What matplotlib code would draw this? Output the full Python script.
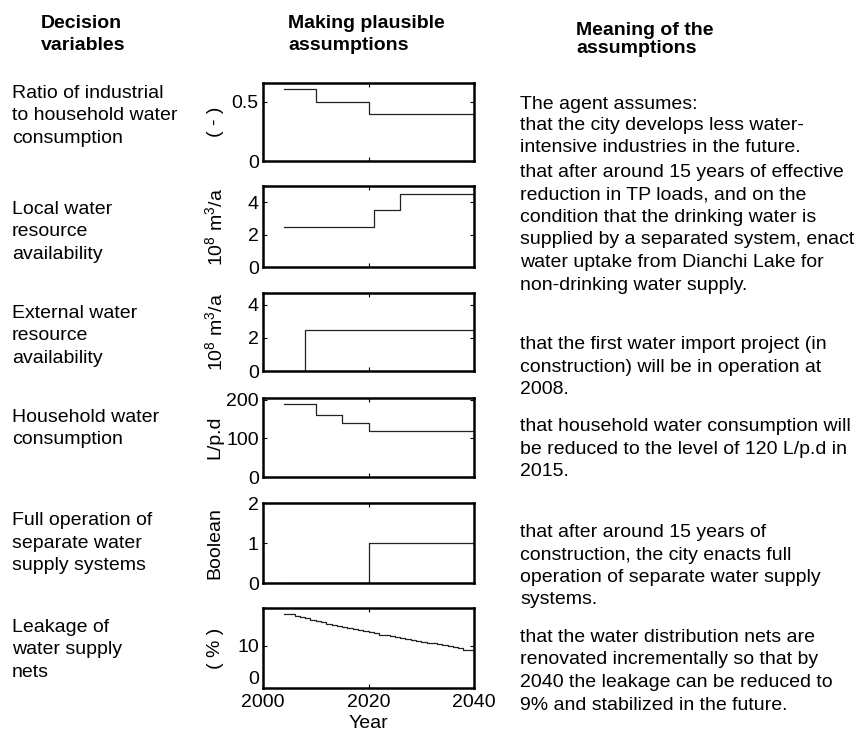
import matplotlib
matplotlib.use("Agg")
import matplotlib.pyplot as plt

plt.rcParams["font.family"] = ["Liberation Sans", "DejaVu Sans"]
plt.rcParams["mathtext.fontset"] = "custom"
plt.rcParams["mathtext.rm"] = "Liberation Sans"
plt.rcParams["mathtext.default"] = "regular"

# step assumptions: each value holds from its year until the next listed year
ratio_years = [2004, 2010, 2020, 2040]
ratio_values = [0.61, 0.5, 0.4, 0.4]

local_years = [2004, 2021, 2026, 2040]
local_values = [2.5, 3.5, 4.5, 4.5]

external_years = [2004, 2008, 2040]
external_values = [0, 2.5, 2.5]

household_years = [2004, 2010, 2015, 2020, 2040]
household_values = [190, 160, 140, 120, 120]

separate_years = [2004, 2020, 2040]
separate_values = [0, 1, 1]

leakage_years = list(range(2004, 2041))
leakage_values = [17.5, 17.5, 17.2, 16.9, 16.6, 16.2, 15.9, 15.6, 15.3, 15.0,
                  14.7, 14.5, 14.2, 14.0, 13.7, 13.5, 13.2, 13.0, 12.7, 12.5,
                  12.3, 12.1, 11.8, 11.6, 11.4, 11.2, 11.0, 10.8, 10.6, 10.4,
                  10.2, 9.9, 9.7, 9.4, 9.1, 9.0, 9.0]

variable_names = [
    ["Ratio of industrial", "to household water", "consumption"],
    ["Local water", "resource", "availability"],
    ["External water", "resource", "availability"],
    ["Household water", "consumption"],
    ["Full operation of", "separate water", "supply systems"],
    ["Leakage of", "water supply", "nets"],
]

meanings = [
    ["that the city develops less water-",
     "intensive industries in the future."],
    ["that after around 15 years of effective",
     "reduction in TP loads, and on the",
     "condition that the drinking water is",
     "supplied by a separated system, enact",
     "water uptake from Dianchi Lake for",
     "non-drinking water supply."],
    ["that the first water import project (in",
     "construction) will be in operation at",
     "2008."],
    ["that household water consumption will",
     "be reduced to the level of 120 L/p.d in",
     "2015."],
    ["that after around 15 years of",
     "construction, the city enacts full",
     "operation of separate water supply",
     "systems."],
    ["that the water distribution nets are",
     "renovated incrementally so that by",
     "2040 the leakage can be reduced to",
     "9% and stabilized in the future."],
]

units = ["( - )", "10$^8$ m$^3$/a", "10$^8$ m$^3$/a", "L/p.d", "Boolean", "( % )"]
y_ticks = [[0, 0.5], [0, 2, 4], [0, 2, 4], [0, 100, 200], [0, 1, 2], [0, 10]]
y_tick_labels = [["0", "0.5"], ["0", "2", "4"], ["0", "2", "4"],
                 ["0", "100", "200"], ["0", "1", "2"], ["0", "10"]]
y_tops = [0.66, 5, 4.7, 205, 2, 19]
x_ticks = [2000, 2020, 2040]

series = [
    (ratio_years, ratio_values),
    (local_years, local_values),
    (external_years, external_values),
    (household_years, household_values),
    (separate_years, separate_values),
    (leakage_years, leakage_values),
]

W, H = 858, 735
fig = plt.figure(figsize=(W / 100, H / 100), dpi=100)

# pixel layout of the six panels (top, bottom) and of the text columns
ax_left, ax_right = 263, 474
panel_rows = [(83, 161), (186, 267), (293, 371), (398, 477), (503, 583), (608, 688)]
name_first = [98, 214, 318, 422, 525, 632]
meaning_first = [130, 177, 349, 431, 537, 642]
FS = 14
STEP = 22.5


def fx(x):
    return x / W


def fy(y):
    return 1 - y / H


def put_lines(x, y_first, lines, step=STEP, **kw):
    for i, line in enumerate(lines):
        fig.text(fx(x), fy(y_first + i * step), line, va="baseline",
                 ha="left", fontsize=FS, **kw)


# column headers
put_lines(41, 28, ["Decision", "variables"], fontweight="bold")
put_lines(288, 28, ["Making plausible", "assumptions"], fontweight="bold")
put_lines(576, 35, ["Meaning of the", "assumptions"], fontweight="bold", step=18)
put_lines(520, 109, ["The agent assumes:"])

for i, (years, values) in enumerate(series):
    top, bottom = panel_rows[i]
    ax = fig.add_axes([fx(ax_left), fy(bottom), fx(ax_right - ax_left),
                       (bottom - top) / H])
    ax.step(years, values, where="post", color="#222222", lw=0.9)
    ax.set_xlim(2000, 2040)
    ax.set_ylim(0, y_tops[i])
    ax.set_yticks(y_ticks[i])
    ax.set_yticklabels(y_tick_labels[i])
    ax.set_xticks(x_ticks)
    ax.tick_params(direction="in", top=True, right=True, length=3, width=0.8,
                   labelsize=FS, pad=3)
    ax.tick_params(axis="x", pad=4)
    if i < len(series) - 1:
        ax.set_xticklabels([])
    else:
        ax.set_xticklabels([str(t) for t in x_ticks])
        # sit the bottom "0" on the axis line so it clears the year labels
        ax.yaxis.get_major_ticks()[0].label1.set_verticalalignment("bottom")
    for sp in ax.spines.values():
        sp.set_linewidth(1.8)

    fig.text(fx(215), fy((top + bottom) / 2), units[i], rotation=90,
             ha="center", va="center", fontsize=FS)

    put_lines(12, name_first[i], variable_names[i])
    put_lines(520, meaning_first[i], meanings[i])

fig.text(fx(368), fy(724), "Year", ha="center", va="center", fontsize=FS)

fig.savefig("out.png", dpi=100)
